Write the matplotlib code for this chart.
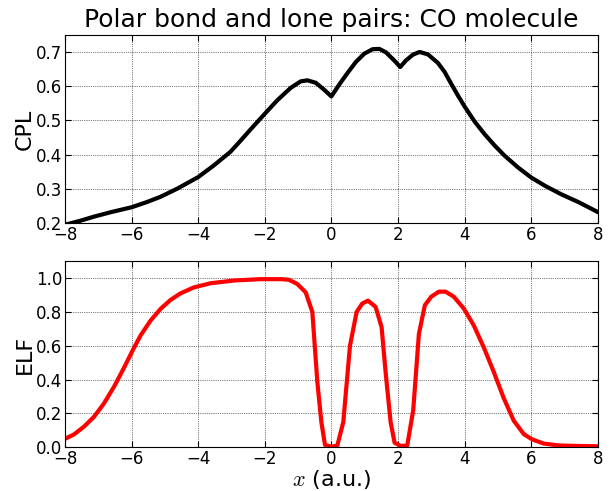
import numpy as np
import matplotlib
matplotlib.use('Agg')
import matplotlib.pyplot as plt

plt.rcParams['mathtext.fontset'] = 'cm'
plt.rcParams['xtick.direction'] = 'in'
plt.rcParams['ytick.direction'] = 'in'
plt.rcParams['xtick.top'] = True
plt.rcParams['ytick.right'] = True
plt.rcParams['xtick.major.size'] = 4
plt.rcParams['ytick.major.size'] = 4

# CPL curve
cpl_x = [-8.0, -7.95, -7.55, -7.14, -6.64, -5.99, -5.54, -5.14, -4.63, -4.0,
         -3.53, -3.03, -2.73, -2.42, -2.0, -1.62, -1.22, -0.92, -0.72, -0.47,
         -0.22, 0.0, 0.24, 0.49, 0.74, 0.99, 1.24, 1.44, 1.64, 1.89, 2.07,
         2.24, 2.45, 2.65, 2.9, 3.2, 3.4, 3.6, 3.8, 4.0, 4.3, 4.6, 4.9, 5.2,
         5.61, 6.0, 6.41, 6.9, 7.42, 8.0]
cpl_y = [0.193, 0.196, 0.206, 0.218, 0.231, 0.246, 0.261, 0.276, 0.300, 0.334,
         0.368, 0.408, 0.440, 0.474, 0.519, 0.559, 0.595, 0.614, 0.617, 0.610,
         0.590, 0.570, 0.605, 0.639, 0.671, 0.695, 0.708, 0.709, 0.699, 0.675, 0.656,
         0.675, 0.692, 0.700, 0.693, 0.668, 0.642, 0.607, 0.573, 0.541, 0.497, 0.460,
         0.427, 0.397, 0.362, 0.333, 0.309, 0.284, 0.261, 0.232]

# ELF curve
elf_x = [-8.0, -7.73, -7.43, -7.13, -6.83, -6.53, -6.23, -5.98, -5.73, -5.43,
         -5.13, -4.83, -4.53, -4.13, -3.62, -2.92, -2.12, -1.5, -1.27, -1.02,
         -0.77, -0.57, -0.42, -0.30, -0.19, 0.0, 0.18, 0.36, 0.56, 0.76, 0.93,
         1.10, 1.33, 1.51, 1.63, 1.78, 1.90, 2.08, 2.28, 2.46, 2.63, 2.81, 3.0,
         3.23, 3.43, 3.68, 3.98, 4.28, 4.58, 4.88, 5.18, 5.48, 5.78, 6.03, 6.38,
         6.79, 6.98, 7.39, 8.0]
elf_y = [0.05, 0.076, 0.122, 0.18, 0.259, 0.357, 0.469, 0.568, 0.661, 0.749,
         0.818, 0.871, 0.91, 0.945, 0.97, 0.986, 0.994, 0.994, 0.99, 0.965,
         0.916, 0.80, 0.386, 0.15, 0.014, 0.004, 0.01, 0.15, 0.60, 0.80, 0.85,
         0.867, 0.83, 0.71, 0.445, 0.15, 0.027, 0.008, 0.01, 0.22, 0.67, 0.84, 0.89,
         0.92, 0.92, 0.89, 0.82, 0.72, 0.59, 0.445, 0.29, 0.157, 0.078, 0.047, 0.022,
         0.012, 0.01, 0.008, 0.006]

xticks = [-8, -6, -4, -2, 0, 2, 4, 6, 8]

fig = plt.figure(figsize=(6.13, 4.91), dpi=100)
ax1 = fig.add_axes([0.106, 0.546, 0.869, 0.383])
ax2 = fig.add_axes([0.106, 0.089, 0.869, 0.379])

ax1.plot(cpl_x, cpl_y, color='black', lw=3)
ax1.set_xlim(-8, 8)
ax1.set_ylim(0.2, 0.75)
ax1.set_yticks([0.2, 0.3, 0.4, 0.5, 0.6, 0.7])
ax1.set_ylabel('CPL', fontsize=16, labelpad=1)
ax1.set_title('Polar bond and lone pairs: CO molecule', fontsize=18)

ax2.plot(elf_x, elf_y, color='red', lw=3)
ax2.set_xlim(-8, 8)
ax2.set_ylim(0, 1.1)
ax2.set_yticks([0.0, 0.2, 0.4, 0.6, 0.8, 1.0])
ax2.set_ylabel('ELF', fontsize=16, labelpad=1)
ax2.set_xlabel('$x$ (a.u.)', fontsize=16, labelpad=0)

for ax in (ax1, ax2):
    ax.set_xticks(xticks)
    ax.grid(True, linestyle=':', color='black', linewidth=0.5)
    ax.tick_params(labelsize=12, pad=2)

plt.savefig('out.png', dpi=100)
